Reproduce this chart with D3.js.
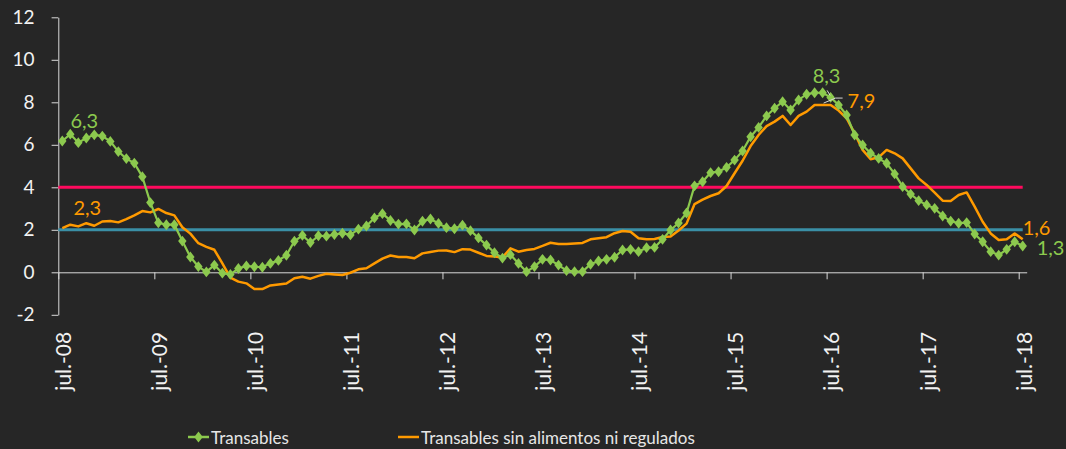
<!DOCTYPE html>
<html>
<head>
<meta charset="UTF-8">
<title>Transables</title>
<script src="https://d3js.org/d3.v7.min.js"></script>
<style>
  body {margin:0; background:#262626;}
  text {font-family: Lato, "Open Sans", sans-serif;}
  .axis path, .axis line {stroke:#d9d9d9;}
  .axis text {fill:#f2f2f2;}
</style>
</head>
<body>
<div id="chart"></div>
<script>
// monthly, jul-08 .. jul-18
var tickLabels = ["jul.-08","jul.-09","jul.-10","jul.-11","jul.-12","jul.-13",
                  "jul.-14","jul.-15","jul.-16","jul.-17","jul.-18"];
var monthNames = ["jul.","ago.","sep.","oct.","nov.","dic.","ene.","feb.","mar.","abr.","may.","jun."];

var transables = [
  6.18,6.5,6.1,6.32,6.47,6.41,6.16,5.68,5.35,5.14,4.5,3.28,
  2.33,2.24,2.24,1.47,0.72,0.27,0.02,0.34,-0.04,-0.1,0.18,0.3,
  0.26,0.24,0.42,0.56,0.8,1.46,1.74,1.4,1.72,1.7,1.78,1.84,
  1.76,2.03,2.18,2.56,2.76,2.44,2.27,2.28,1.99,2.4,2.51,2.3,
  2.1,2.05,2.22,1.96,1.62,1.28,0.92,0.67,0.83,0.42,0.03,0.27,
  0.61,0.58,0.34,0.08,0.03,0.03,0.38,0.53,0.61,0.71,1.05,1.08,
  0.97,1.16,1.17,1.55,1.99,2.32,2.79,4.07,4.26,4.69,4.73,4.94,
  5.28,5.71,6.38,6.82,7.36,7.72,8.03,7.64,8.11,8.38,8.45,8.45,
  8.23,7.87,7.4,6.46,5.99,5.6,5.36,5.13,4.63,4.03,3.68,3.37,
  3.17,3.01,2.65,2.41,2.31,2.34,1.8,1.44,0.97,0.81,1.08,1.44,
  1.24];

var sinAlimentos = [
  2.08,2.24,2.16,2.31,2.19,2.39,2.41,2.35,2.5,2.68,2.88,2.82,
  2.98,2.79,2.68,2.12,1.82,1.37,1.2,1.06,0.42,-0.25,-0.44,-0.52,
  -0.79,-0.79,-0.62,-0.57,-0.53,-0.28,-0.21,-0.3,-0.17,-0.07,-0.1,-0.13,
  -0.02,0.14,0.19,0.42,0.64,0.79,0.72,0.72,0.66,0.89,0.96,1.02,
  1.03,0.95,1.09,1.07,0.92,0.77,0.74,0.7,1.13,0.97,1.05,1.1,
  1.24,1.39,1.33,1.33,1.36,1.38,1.55,1.6,1.65,1.84,1.94,1.91,
  1.6,1.55,1.57,1.66,1.68,1.97,2.29,3.21,3.42,3.59,3.72,4.06,
  4.66,5.25,5.94,6.46,6.88,7.09,7.36,6.93,7.36,7.56,7.87,7.87,
  7.87,7.61,7.25,6.54,5.76,5.32,5.41,5.76,5.6,5.36,4.89,4.42,
  4.11,3.75,3.37,3.36,3.64,3.76,3.09,2.38,1.83,1.52,1.55,1.83,
  1.55];

var refValues = [4, 2];
var refColors = ["#ff0a5e", "#3a8fa6"];
var yTicks = [-2,0,2,4,6,8,10,12];

var months = transables.map(function(d, i) {
  return monthNames[i % 12] + "-" + String(8 + Math.floor((i + 6) / 12)).padStart(2, "0");
});

var width = 1066, height = 449;
var margin = {left: 58.3, right: 39.3, top: 17.3, bottom: 134.2};

var green = "#8cc94e", orange = "#ff9a00";

var svg = d3.select("#chart").append("svg")
    .attr("width", width)
    .attr("height", height);

// index scale: category i sits between i and i+1
var x = d3.scaleLinear()
    .domain([0, months.length])
    .range([margin.left, width - margin.right]);
var y = d3.scaleLinear()
    .domain([-2, 12])
    .range([height - margin.bottom, margin.top]);

function cx(i) { return x(i + 0.5); }

// y axis
svg.append("g")
    .attr("class", "axis")
    .attr("transform", "translate(" + margin.left + ",0)")
    .call(d3.axisLeft(y).tickValues(yTicks).tickSize(6.7).tickSizeOuter(0).tickPadding(17)
      .tickFormat(function(d) { return d; }))
    .call(function(g) {
      g.selectAll("text").style("font-size", "19px");
    });

// reference lines 4 and 2
svg.selectAll(".ref")
    .data(refValues)
    .enter().append("line")
    .attr("class", "ref")
    .attr("x1", x(0))
    .attr("x2", cx(months.length - 1))
    .attr("y1", function(d) { return y(d); })
    .attr("y2", function(d) { return y(d); })
    .attr("stroke", function(d, i) { return refColors[i]; })
    .attr("stroke-width", 3);

// x axis on the zero line
svg.append("g")
    .attr("class", "axis")
    .attr("transform", "translate(0," + y(0) + ")")
    .call(d3.axisBottom(x)
      .tickValues(d3.range(0, months.length, 12))
      .tickSize(7).tickSizeOuter(0).tickFormat(""));

// x labels, rotated, below the plot
svg.selectAll(".xlab")
    .data(tickLabels)
    .enter().append("text")
    .attr("class", "xlab")
    .attr("transform", function(d, i) {
      return "translate(" + (cx(i * 12) + 1.5) + "," + (y(-2) + 17) + ") rotate(-90)";
    })
    .attr("text-anchor", "end")
    .attr("dy", "0.35em")
    .style("font-size", "21px")
    .attr("fill", "#f2f2f2")
    .text(function(d) { return d; });

var line = d3.line()
    .x(function(d, i) { return cx(i); })
    .y(function(d) { return y(d); });

svg.append("path")
    .datum(sinAlimentos)
    .attr("fill", "none")
    .attr("stroke", orange)
    .attr("stroke-width", 2.5)
    .attr("stroke-linejoin", "round")
    .attr("d", line);

svg.append("path")
    .datum(transables)
    .attr("fill", "none")
    .attr("stroke", green)
    .attr("stroke-width", 2.2)
    .attr("d", line);

var diamond = d3.symbol().type(d3.symbolDiamond).size(34);

svg.selectAll(".pt")
    .data(transables)
    .enter().append("path")
    .attr("class", "pt")
    .attr("transform", function(d, i) { return "translate(" + cx(i) + "," + y(d) + ") scale(1.35,1)"; })
    .attr("d", diamond)
    .attr("fill", green);

// data labels
var labels = [
  {i: 3,   s: transables,   text: "6,3", dx: -2,  dy: -10, anchor: "middle", color: green},
  {i: 3,   s: sinAlimentos, text: "2,3", dx: 1,   dy: -8,  anchor: "middle", color: orange},
  {i: 96,  s: transables,   text: "8,3", dx: -4,  dy: -14, anchor: "middle", color: green},
  {i: 96,  s: sinAlimentos, text: "7,9", dx: 17,  dy: 3,   anchor: "start",  color: orange},
  {i: 120, s: sinAlimentos, text: "1,6", dx: 0,   dy: -4,  anchor: "start",  color: orange},
  {i: 120, s: transables,   text: "1,3", dx: 14,  dy: 9,   anchor: "start",  color: green}
];

svg.selectAll(".dlab")
    .data(labels)
    .enter().append("text")
    .attr("class", "dlab")
    .attr("x", function(d) { return cx(d.i) + d.dx; })
    .attr("y", function(d) { return y(d.s[d.i]) + d.dy; })
    .attr("text-anchor", function(d) { return d.anchor; })
    .attr("fill", function(d) { return d.color; })
    .style("font-size", "20px")
    .text(function(d) { return d.text; });

// leader lines near the peak
svg.append("path")
    .attr("d", "M" + (cx(96) - 7) + "," + (y(sinAlimentos[96]) - 2) +
               "L" + (cx(96) + 5) + "," + (y(sinAlimentos[96]) - 7) +
               "L" + (cx(96) + 12) + "," + (y(sinAlimentos[96]) - 7))
    .attr("fill", "none").attr("stroke", "#d9d9d9").attr("stroke-width", 1);
svg.append("path")
    .attr("d", "M" + (cx(96) - 3.5) + "," + (y(transables[96]) - 7) +
               "L" + (cx(96) - 0.5) + "," + (y(transables[96]) - 2))
    .attr("fill", "none").attr("stroke", "#d9d9d9").attr("stroke-width", 1);

// legend
var legend = svg.append("g").attr("transform", "translate(0,437)");
var items = [
  {name: "Transables", color: green, x: 188, marker: true},
  {name: "Transables sin alimentos ni regulados", color: orange, x: 398, marker: false}
];
var li = legend.selectAll("g")
    .data(items)
    .enter().append("g")
    .attr("transform", function(d) { return "translate(" + d.x + ",0)"; });
li.append("line")
    .attr("x1", 0).attr("x2", 21)
    .attr("stroke", function(d) { return d.color; })
    .attr("stroke-width", 2.5);
li.filter(function(d) { return d.marker; }).append("path")
    .attr("transform", "translate(10.5,0) scale(1.35,1)")
    .attr("d", diamond)
    .attr("fill", green);
li.append("text")
    .attr("x", 23)
    .attr("y", 7)
    .attr("fill", "#e6e6e6")
    .style("font-size", "17px")
    .text(function(d) { return d.name; });
</script>
</body>
</html>
